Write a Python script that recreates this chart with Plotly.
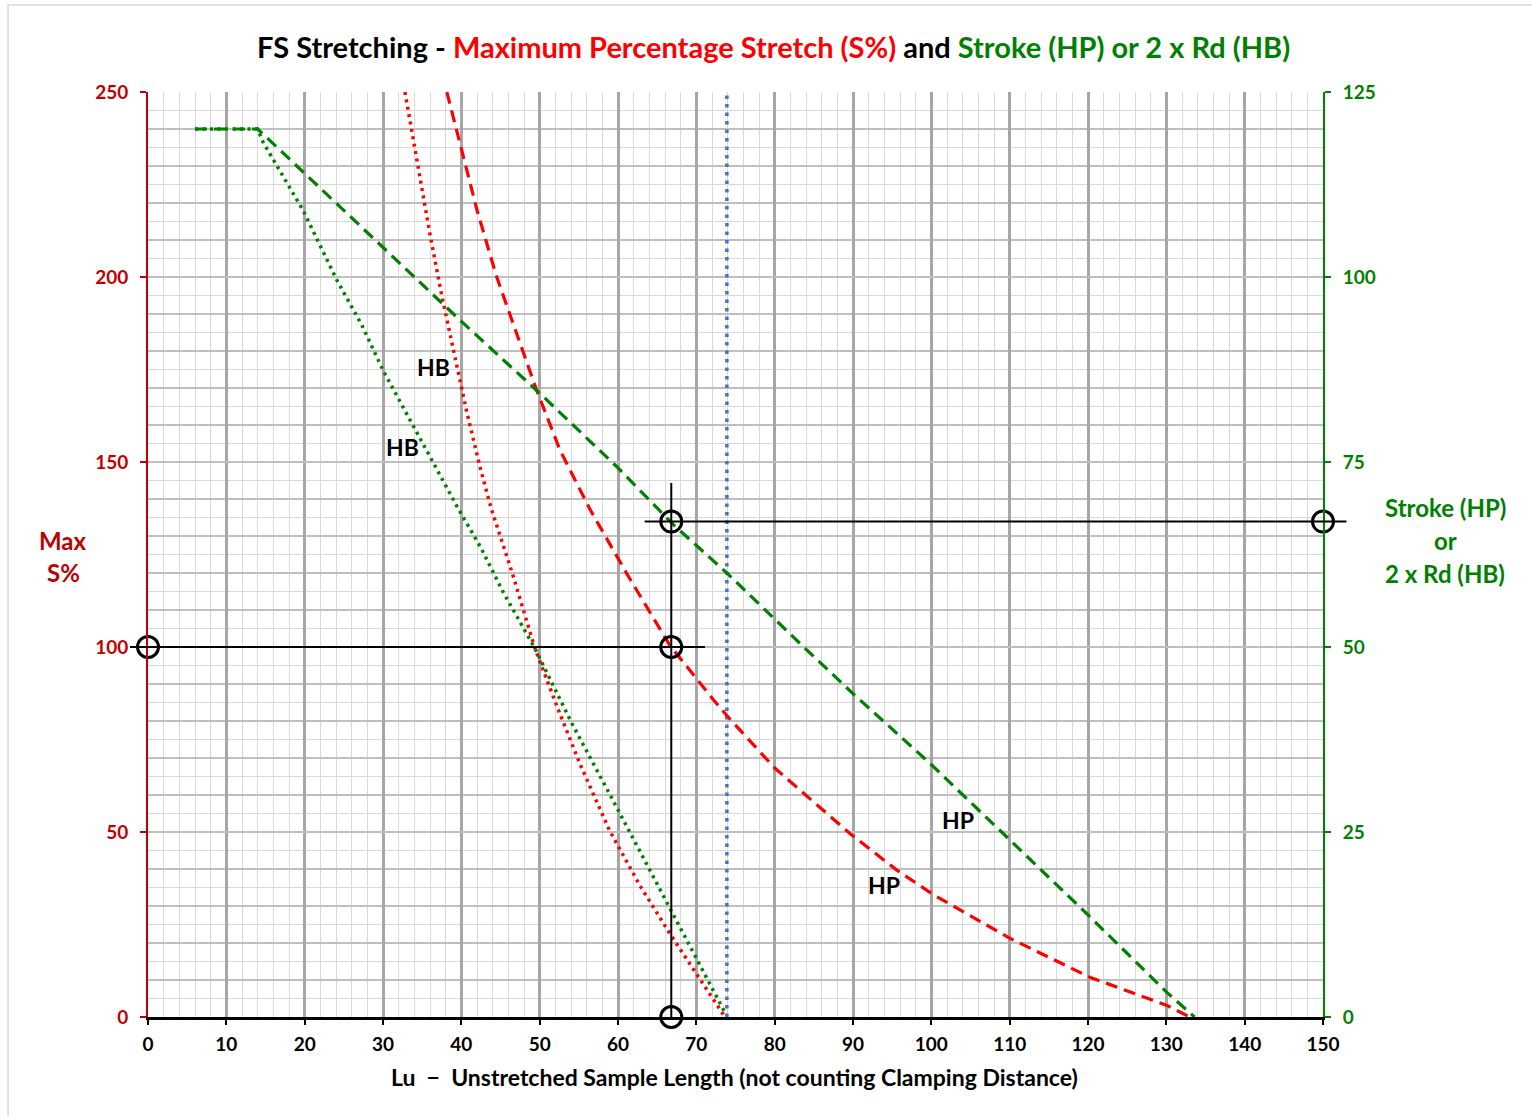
import plotly.graph_objects as go

# ---------------- data ----------------
# HP: Maximum percentage stretch S% (left axis) - red dashed
hp_s_x = [38.15, 40.05, 42.0, 44.5, 46.6, 49.6, 52.6, 56.4, 61.1, 66.6, 72.2, 74.0,
          80.0, 89.6, 95.6, 100.3, 110.0, 120.3, 130.0, 133.0]
hp_s_y = [250, 234.3, 218.1, 200.1, 187.5, 169.5, 153.2, 137.3, 119.9, 100.5, 85.7, 81.2,
          67.3, 49.6, 39.7, 33.0, 21.3, 10.7, 3.2, 0]

# HB: Maximum percentage stretch S% (left axis) - red dotted
hb_s_x = [32.8, 34.5, 36.0, 37.5, 39.4, 40.7, 42.4, 43.8, 46.5, 49.4, 52.2, 55.1,
          58.9, 62.8, 66.6, 70.5, 73.5]
hb_s_y = [250, 229, 211.5, 195, 176, 163.5, 148.5, 137.5, 120, 99.6, 84, 68.6,
          50.5, 35.5, 22.6, 10, 0.5]

# HP: Stroke (right axis) - green dashed
hp_st_x = [6, 14, 20, 30, 40, 50, 60, 67.1, 73.9, 83.7, 90.0,
           99.8, 110.0, 119.8, 130.0, 133.6]
hp_st_y = [120, 120, 114, 104, 94, 84.3, 74.2, 66.5, 60.0, 50.0, 43.7,
           34.3, 23.9, 14.0, 3.4, 0]

# HB: 2 x Rd (right axis) - green dotted
hb_rd_x = [6, 14, 14.7, 19.8, 24.1, 27.3, 30.0, 33.9, 39.6, 42.4, 45.4, 49.4, 54.1,
           59.1, 66.4, 70.0, 73.8]
hb_rd_y = [120, 120, 118.2, 109, 99.6, 93.5, 87.4, 79.8, 68.7, 63.6, 57.3, 49.8, 39.7,
           29.8, 15.1, 7.7, 0.3]

# blue dotted reference at Lu
ref_lu = 73.9

# black construction lines / circles
sel_lu = 66.8          # selected sample length
sel_s = 100            # selected S%
sel_s_top = 133.9      # left-axis level of the stroke line (stroke ~ 67)
vline_top = 144.3
hline1_x = [-2.3, 71.1]
hline2_x = [63.4, 153.0]
circle_x = [0, sel_lu, sel_lu, 150, sel_lu]
circle_y = [sel_s, sel_s, sel_s_top, sel_s_top, 0]

# curve labels
label_text = ["HB", "HB", "HP", "HP"]
label_x = [36.4, 32.5, 103.4, 93.9]
label_y = [175.8, 154.0, 53.2, 35.7]

x_ticks = list(range(0, 151, 10))
left_ticks = list(range(0, 251, 50))
right_ticks = list(range(0, 126, 25))

RED = "#ff0000"
DRED = "#c00000"
GREEN = "#008000"
BLUE = "#4472c4"
FONT = "Lato, 'Open Sans', sans-serif"

fig = go.Figure()

fig.add_trace(go.Scatter(x=[ref_lu, ref_lu], y=[0, 250], mode="lines",
                         line=dict(color=BLUE, width=3.5, dash="3.5px,5px"),
                         showlegend=False, hoverinfo="skip"))
fig.add_trace(go.Scatter(x=hb_rd_x, y=hb_rd_y, yaxis="y2", mode="lines",
                         line=dict(color=GREEN, width=3.5, dash="3px,4.5px"),
                         showlegend=False))
fig.add_trace(go.Scatter(x=hp_st_x, y=hp_st_y, yaxis="y2", mode="lines",
                         line=dict(color=GREEN, width=3.2, dash="12px,7px"),
                         showlegend=False))
fig.add_trace(go.Scatter(x=hb_s_x, y=hb_s_y, mode="lines",
                         line=dict(color=RED, width=3.5, dash="3px,4.5px"),
                         showlegend=False))
fig.add_trace(go.Scatter(x=hp_s_x, y=hp_s_y, mode="lines",
                         line=dict(color=RED, width=3.2, dash="12px,7px"),
                         showlegend=False))

# construction lines
shapes = []
shapes.append(dict(type="line", xref="x", yref="y", x0=sel_lu, x1=sel_lu, y0=0, y1=vline_top,
                   line=dict(color="black", width=2), layer="above"))
shapes.append(dict(type="line", xref="paper", yref="y", x0=hline1_x[0] / 150, x1=hline1_x[1] / 150,
                   y0=sel_s, y1=sel_s, line=dict(color="black", width=2), layer="above"))
shapes.append(dict(type="line", xref="paper", yref="y", x0=hline2_x[0] / 150, x1=hline2_x[1] / 150,
                   y0=sel_s_top, y1=sel_s_top, line=dict(color="black", width=2), layer="above"))
# outer chart-area frame
shapes.append(dict(type="rect", xref="paper", yref="paper", x0=-0.1191, x1=1.19, y0=-0.2, y1=1.0941,
                   line=dict(color="#d9d9d9", width=1.5), layer="below"))

fig.add_trace(go.Scatter(x=circle_x, y=circle_y, mode="markers", cliponaxis=False,
                         marker=dict(symbol="circle-open", size=21, color="black",
                                     line=dict(color="black", width=3)),
                         showlegend=False))

annotations = []
for t, x, y in zip(label_text, label_x, label_y):
    annotations.append(dict(x=x, y=y, xref="x", yref="y", text=t, showarrow=False,
                            font=dict(family=FONT, size=23, color="black", weight="bold")))

title_html = ("FS Stretching - <span style='color:#ff0000'>Maximum Percentage Stretch (S%)</span>"
              " and <span style='color:#008000'>Stroke (HP) or 2 x Rd (HB)</span>")
annotations.append(dict(x=(773 - 148) / 1175, y=(1017 - 46) / 925, xref="paper", yref="paper",
                        text=title_html, showarrow=False, xanchor="center", yanchor="middle",
                        font=dict(family=FONT, size=29, color="black", weight="bold")))

def paper_pt(px, py):
    return (px - 148) / 1175, (1017 - py) / 925

for txt, px, py, col, sz in [("Max", 63, 540, DRED, 24), ("S%", 63, 572, DRED, 24),
                             ("Stroke (HP)", 1445, 507, GREEN, 24), ("or", 1445, 540, GREEN, 24),
                             ("2 x Rd (HB)", 1445, 573, GREEN, 24),
                             ("Lu  −  Unstretched Sample Length (not counting Clamping Distance)",
                              734, 1077, "black", 23)]:
    ax, ay = paper_pt(px, py)
    annotations.append(dict(x=ax, y=ay, xref="paper", yref="paper", text=txt, showarrow=False,
                            xanchor="center", yanchor="middle",
                            font=dict(family=FONT, size=sz, color=col, weight="bold")))

fig.update_layout(
    width=1532, height=1116,
    margin=dict(l=148, r=209, t=92, b=99),
    paper_bgcolor="white", plot_bgcolor="white",
    showlegend=False,
    shapes=shapes, annotations=annotations,
    xaxis=dict(range=[0, 150], tickvals=x_ticks, showgrid=True, gridcolor="#a6a6a6", gridwidth=2.5,
               zeroline=False, showline=True, linecolor="black", linewidth=2.5,
               ticks="outside", ticklen=5, tickwidth=2, tickcolor="black", ticklabelstandoff=3,
               tickfont=dict(family=FONT, size=19, color="black", weight="bold"),
               minor=dict(dtick=2, showgrid=True, gridcolor="#d9d9d9", gridwidth=1, ticks="")),
    yaxis=dict(range=[0, 250], tickvals=left_ticks, showgrid=True, gridcolor="#bfbfbf", gridwidth=2,
               zeroline=False, showline=True, linecolor=DRED, linewidth=2,
               ticks="outside", ticklen=6, tickwidth=2, tickcolor=DRED, ticklabelstandoff=8,
               tickfont=dict(family=FONT, size=19, color=DRED, weight="bold"),
               minor=dict(dtick=5, showgrid=True, gridcolor="#d9d9d9", gridwidth=1, ticks="")),
    yaxis2=dict(range=[0, 125], tickvals=right_ticks, overlaying="y", side="right", anchor="x",
                showgrid=True, gridcolor="#bfbfbf", gridwidth=2,
                zeroline=False, showline=True, linecolor=GREEN, linewidth=2,
                ticks="outside", ticklen=6, tickwidth=2, tickcolor=GREEN, ticklabelstandoff=8,
                tickfont=dict(family=FONT, size=19, color=GREEN, weight="bold"),
                minor=dict(dtick=5, showgrid=True, gridcolor="#bfbfbf", gridwidth=2, ticks="")),
)

fig.write_html("out.html")
